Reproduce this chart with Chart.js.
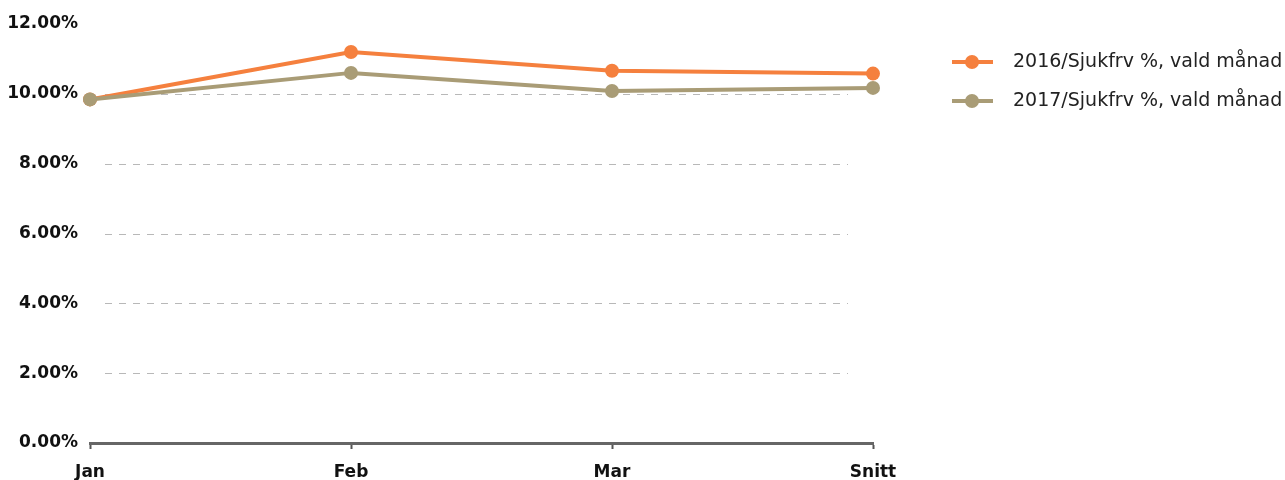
<!DOCTYPE html>
<html>
<head>
<meta charset="utf-8">
<script src="https://cdn.jsdelivr.net/npm/chart.js@4"></script>
<style>
  html, body { margin: 0; padding: 0; background: #fff; }
  #wrap { width: 1285px; height: 480px; }
</style>
</head>
<body>
<div id="wrap"><canvas id="lineChart"></canvas></div>
<script>
// Categories and series (percent)
const months = ['Jan', 'Feb', 'Mar', 'Snitt'];
const sick2016 = [9.84, 11.2, 10.66, 10.58];
const sick2017 = [9.84, 10.6, 10.08, 10.17];
const seriesNames = ['2016/Sjukfrv %, vald månad', '2017/Sjukfrv %, vald månad'];
const yTicks = [0, 2, 4, 6, 8, 10, 12];

const orange = '#f5803e';
const tan = '#a99c76';

// dashed grid lines that stop short of the plot edges
const dashedGrid = {
    id: 'dashedGrid',
    beforeDatasetsDraw(chart) {
        const { ctx, chartArea, scales } = chart;
        ctx.save();
        ctx.strokeStyle = '#b8b8b8';
        ctx.lineWidth = 1;
        ctx.setLineDash([7, 7]);
        yTicks.slice(1, -1).forEach(v => {
            const y = Math.round(scales.y.getPixelForValue(v)) + 0.5;
            ctx.beginPath();
            ctx.moveTo(chartArea.left + 15, y);
            ctx.lineTo(chartArea.right - 25, y);
            ctx.stroke();
        });
        ctx.restore();
    }
};

// legend on the right: line + dot marker and the series name
const sideLegend = {
    id: 'sideLegend',
    afterDraw(chart) {
        const { ctx } = chart;
        const left = chart.chartArea.right + 79;
        chart.data.datasets.forEach((ds, i) => {
            const cy = 62 + i * 39;
            ctx.save();
            ctx.strokeStyle = ds.borderColor;
            ctx.lineWidth = 4;
            ctx.beginPath();
            ctx.moveTo(left, cy);
            ctx.lineTo(left + 41, cy);
            ctx.stroke();
            ctx.fillStyle = ds.borderColor;
            ctx.beginPath();
            ctx.arc(left + 20, cy, 7, 0, Math.PI * 2);
            ctx.fill();
            ctx.fillStyle = '#222';
            ctx.font = '19px "DejaVu Sans"';
            ctx.textBaseline = 'middle';
            ctx.fillText(ds.label, left + 61, cy);
            ctx.restore();
        });
    }
};

const ctx = document.getElementById('lineChart').getContext('2d');
new Chart(ctx, {
    type: 'line',
    data: {
        labels: months,
        datasets: [
            {
                label: seriesNames[0],
                data: sick2016,
                borderColor: orange,
                backgroundColor: orange,
                borderWidth: 4,
                pointRadius: 7,
                pointHoverRadius: 7,
                pointBorderWidth: 0,
                order: 2
            },
            {
                label: seriesNames[1],
                data: sick2017,
                borderColor: tan,
                backgroundColor: tan,
                borderWidth: 4,
                pointRadius: 7,
                pointHoverRadius: 7,
                pointBorderWidth: 0,
                order: 1
            }
        ]
    },
    options: {
        responsive: true,
        maintainAspectRatio: false,
        animation: false,
        layout: { padding: { top: 24, left: 0, right: 412, bottom: 0 } },
        scales: {
            x: {
                offset: false,
                grid: {
                    display: true,
                    drawOnChartArea: false,
                    drawTicks: true,
                    tickLength: 6,
                    tickWidth: 2,
                    tickColor: '#555'
                },
                border: { display: true, color: '#666', width: 3 },
                afterFit: axis => { axis.height = 37; },
                ticks: {
                    color: '#111',
                    font: { family: 'DejaVu Sans', size: 17, weight: 'bold' },
                    padding: 13,
                    maxRotation: 0
                }
            },
            y: {
                min: 0,
                max: 12,
                afterBuildTicks: axis => { axis.ticks = yTicks.map(v => ({ value: v })); },
                grid: { display: false },
                border: { display: false },
                afterFit: axis => { axis.width = 90; },
                ticks: {
                    color: '#111',
                    padding: 4,
                    font: { family: 'DejaVu Sans', size: 17, weight: 'bold' },
                    callback: v => v.toFixed(2) + '%'
                }
            }
        },
        plugins: {
            legend: { display: false },
            tooltip: { enabled: false }
        }
    },
    plugins: [dashedGrid, sideLegend]
});
</script>
</body>
</html>
